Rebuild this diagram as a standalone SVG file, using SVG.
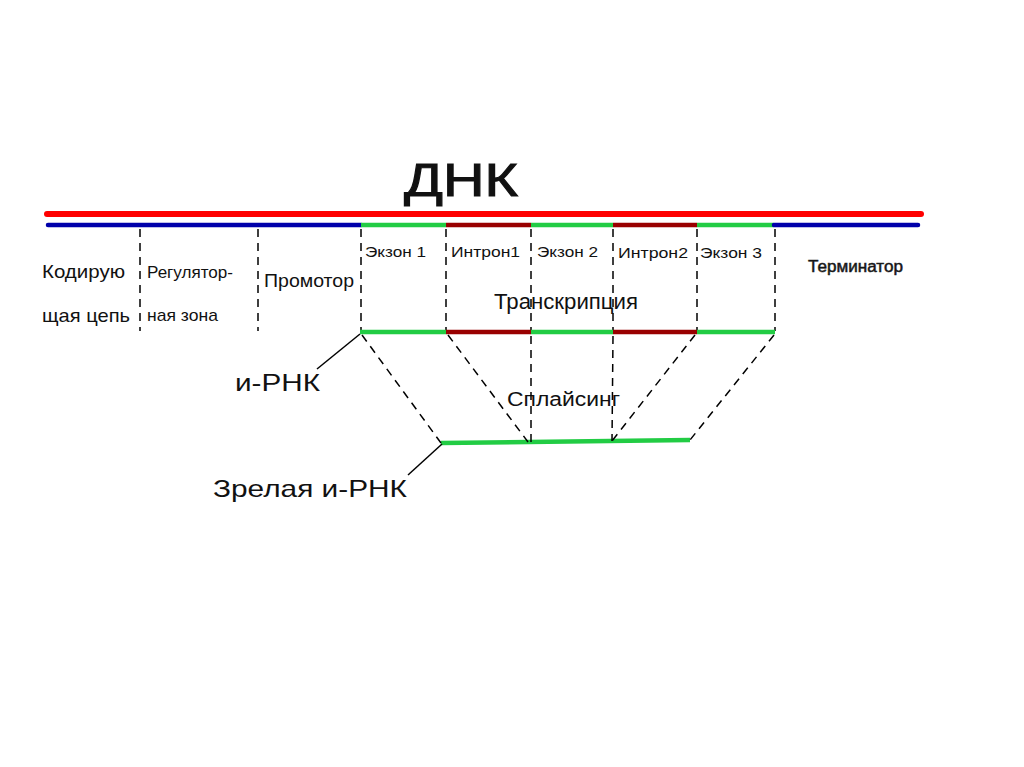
<svg xmlns="http://www.w3.org/2000/svg" width="1024" height="767" viewBox="0 0 1024 767">
<style>
text{font-family:"Liberation Sans",Arial,sans-serif;fill:#111}
.dash{stroke:#000;stroke-width:1.5;stroke-dasharray:8,6;fill:none}
.lead{stroke:#000;stroke-width:1.5;fill:none}
.g{stroke:#22cc44;stroke-width:4.5;fill:none}
.r{stroke:#990000;stroke-width:4.5;fill:none}
.b{stroke:#0000aa;stroke-width:4.5;stroke-linecap:round;fill:none}
</style>
<rect width="1024" height="767" fill="#fff"/>
<g id="dna">
<line x1="47" y1="214" x2="921" y2="214" stroke="#ff0000" stroke-width="6" stroke-linecap="round"/>
<line class="b" x1="48" y1="225" x2="361" y2="225"/>
<line class="g" x1="361" y1="225" x2="446" y2="225"/>
<line class="r" x1="446" y1="225" x2="531" y2="225"/>
<line class="g" x1="531" y1="225" x2="613" y2="225"/>
<line class="r" x1="613" y1="225" x2="697" y2="225"/>
<line class="g" x1="697" y1="225" x2="774" y2="225"/>
<line class="b" x1="774" y1="225" x2="918" y2="225"/>
<text x="404" y="196" font-size="46" textLength="114" lengthAdjust="spacingAndGlyphs" stroke="#111" stroke-width="1">ДНК</text>
</g>
<g id="dividers">
<line class="dash" x1="140" y1="229" x2="140" y2="331"/>
<line class="dash" x1="258" y1="229" x2="258" y2="331"/>
<line class="dash" x1="361" y1="229" x2="361" y2="331"/>
<line class="dash" x1="446" y1="229" x2="446" y2="331"/>
<line class="dash" x1="531" y1="229" x2="531" y2="331"/>
<line class="dash" x1="613" y1="229" x2="613" y2="331"/>
<line class="dash" x1="697" y1="229" x2="697" y2="331"/>
<line class="dash" x1="775" y1="229" x2="775" y2="331"/>
</g>
<g id="labels">
<text x="42" y="278" font-size="19" textLength="83" lengthAdjust="spacingAndGlyphs">Кодирую</text>
<text x="42" y="322" font-size="19" textLength="88" lengthAdjust="spacingAndGlyphs">щая цепь</text>
<text x="147" y="278" font-size="17" textLength="86" lengthAdjust="spacingAndGlyphs">Регулятор-</text>
<text x="147" y="321" font-size="17" textLength="71" lengthAdjust="spacingAndGlyphs">ная зона</text>
<text x="264" y="287" font-size="18" textLength="90" lengthAdjust="spacingAndGlyphs">Промотор</text>
<text x="365" y="257" font-size="15" textLength="61" lengthAdjust="spacingAndGlyphs">Экзон 1</text>
<text x="451" y="257" font-size="15" textLength="69" lengthAdjust="spacingAndGlyphs">Интрон1</text>
<text x="537" y="257" font-size="15" textLength="61" lengthAdjust="spacingAndGlyphs">Экзон 2</text>
<text x="618" y="258" font-size="15" textLength="70" lengthAdjust="spacingAndGlyphs">Интрон2</text>
<text x="700" y="258" font-size="15" textLength="62" lengthAdjust="spacingAndGlyphs">Экзон 3</text>
<text x="808" y="272" font-size="16" textLength="95" lengthAdjust="spacingAndGlyphs" stroke="#222" stroke-width="0.5">Терминатор</text>
<text x="494" y="309" font-size="22" textLength="144" lengthAdjust="spacingAndGlyphs">Транскрипция</text>
</g>
<g id="mrna">
<line class="g" x1="360" y1="332" x2="446" y2="332"/>
<line class="r" x1="446" y1="332" x2="531" y2="332"/>
<line class="g" x1="531" y1="332" x2="613" y2="332"/>
<line class="r" x1="613" y1="332" x2="697" y2="332"/>
<line class="g" x1="697" y1="332" x2="775" y2="332"/>
<text x="235" y="391" font-size="24" textLength="85" lengthAdjust="spacingAndGlyphs">и-РНК</text>
</g>
<g id="mature-mrna">
<line class="g" x1="441" y1="443" x2="690" y2="440"/>
<text x="213" y="497" font-size="24" textLength="194" lengthAdjust="spacingAndGlyphs">Зрелая и-РНК</text>
</g>
<g id="splicing">
<text x="507" y="406" font-size="20" textLength="113" lengthAdjust="spacingAndGlyphs">Сплайсинг</text>
</g>
<g id="connectors">
<line class="lead" x1="360" y1="334" x2="317" y2="369"/>
<line class="lead" x1="442" y1="444" x2="408" y2="475"/>
<line class="dash" x1="362" y1="335" x2="441" y2="443"/>
<line class="dash" x1="448" y1="335" x2="528" y2="442"/>
<line class="dash" x1="531" y1="336" x2="531" y2="442"/>
<line class="dash" x1="613" y1="336" x2="612" y2="441"/>
<line class="dash" x1="695" y1="335" x2="612" y2="441"/>
<line class="dash" x1="774" y1="335" x2="690" y2="440"/>
</g>
</svg>
